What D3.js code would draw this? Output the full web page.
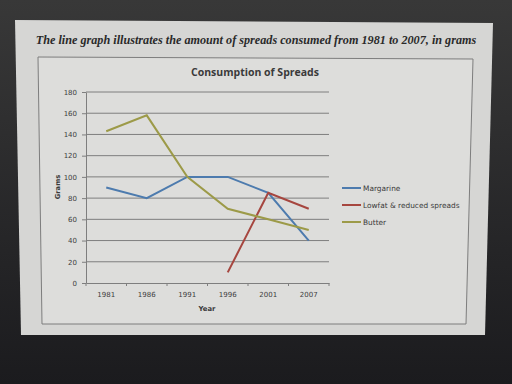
<!DOCTYPE html>
<html>
<head>
<meta charset="utf-8">
<script src="https://cdn.jsdelivr.net/npm/d3@7"></script>
<style>
  html, body { margin: 0; padding: 0; background: #232323; }
  svg { display: block; }
</style>
</head>
<body>
<div id="chart"></div>
<script>
// data
var years = ["1981", "1986", "1991", "1996", "2001", "2007"];
var margarine = [90, 80, 100, 100, 85, 40];
var lowfat = [null, null, null, 10, 85, 70];
var butter = [143, 158, 100, 70, 60, 50];
var seriesNames = ["Margarine", "Lowfat & reduced spreads", "Butter"];
var seriesColors = ["#4d7bae", "#a6463f", "#9c9a48"];
var yTicks = [0, 20, 40, 60, 80, 100, 120, 140, 160, 180];

var W = 512, H = 384;

var svg = d3.select("#chart").append("svg")
  .attr("width", W).attr("height", H);

// dark surround, a bit lighter at the top
var defs = svg.append("defs");
var bg = defs.append("linearGradient").attr("id", "bg")
  .attr("x1", 0).attr("y1", 0).attr("x2", 0).attr("y2", 1);
bg.append("stop").attr("offset", "0%").attr("stop-color", "#383838");
bg.append("stop").attr("offset", "100%").attr("stop-color", "#1b1b1e");
svg.append("rect").attr("width", W).attr("height", H).attr("fill", "url(#bg)");

// the screen, slightly skewed in the photo
svg.append("path")
  .attr("d", "M15,20 L493,23 L485,335 L21,335 Z")
  .attr("fill", "#d6d6d4");

// chart frame
svg.append("path")
  .attr("d", "M38,57 L473,59 L466,324 L42,324 Z")
  .attr("fill", "#dddddb")
  .attr("stroke", "#7d7d7d")
  .attr("stroke-width", 1);

svg.append("text")
  .attr("x", 256).attr("y", 44)
  .attr("text-anchor", "middle")
  .attr("font-family", "Liberation Serif, serif")
  .attr("font-style", "italic").attr("font-weight", "bold")
  .attr("font-size", 12.2)
  .attr("fill", "#2a2a2a")
  .text("The line graph illustrates the amount of spreads consumed from 1981 to 2007, in grams");

svg.append("text")
  .attr("x", 255).attr("y", 76)
  .attr("text-anchor", "middle")
  .attr("font-family", "Open Sans, sans-serif")
  .attr("font-weight", "bold")
  .attr("font-size", 10.5)
  .attr("fill", "#3a3a3a")
  .text("Consumption of Spreads");

// scales
var plot = {left: 86, right: 329, top: 92, bottom: 283};

var x = d3.scaleBand()
  .domain(years)
  .range([plot.left, plot.right]);

var y = d3.scaleLinear()
  .domain([0, 180])
  .range([plot.bottom, plot.top]);

// gridlines
svg.append("g")
  .selectAll("line")
  .data(yTicks.slice(1))
  .enter().append("line")
    .attr("x1", plot.left).attr("x2", plot.right)
    .attr("y1", function(d) { return y(d); })
    .attr("y2", function(d) { return y(d); })
    .attr("stroke", "#7e7e7e")
    .attr("stroke-width", 1);

// y axis
var yAxis = svg.append("g")
  .attr("transform", "translate(" + plot.left + ",0)")
  .call(d3.axisLeft(y).tickValues(yTicks).tickSize(4).tickPadding(5).tickSizeOuter(0));

// x axis
var xAxis = svg.append("g")
  .attr("transform", "translate(0," + plot.bottom + ")")
  .call(d3.axisBottom(x).tickSize(0).tickPadding(9));

// tick marks at the band edges, like Excel
var edges = years.map(function(d) { return x(d); }).concat([plot.right]);
xAxis.selectAll(".edge")
  .data(edges)
  .enter().append("line")
    .attr("class", "edge")
    .attr("x1", function(d) { return d; }).attr("x2", function(d) { return d; })
    .attr("y1", 0).attr("y2", 3)
    .attr("stroke", "#7e7e7e");

[yAxis, xAxis].forEach(function(a) {
  a.select(".domain").attr("stroke", "#7e7e7e");
  a.selectAll(".tick line").attr("stroke", "#7e7e7e");
  a.selectAll("text")
    .attr("font-family", "DejaVu Sans, sans-serif")
    .attr("font-size", 7)
    .attr("fill", "#404040");
});

svg.append("text")
  .attr("transform", "translate(60,187) rotate(-90)")
  .attr("text-anchor", "middle")
  .attr("font-family", "DejaVu Sans, sans-serif")
  .attr("font-weight", "bold")
  .attr("font-size", 6.8)
  .attr("fill", "#3a3a3a")
  .text("Grams");

svg.append("text")
  .attr("x", 207).attr("y", 311)
  .attr("text-anchor", "middle")
  .attr("font-family", "DejaVu Sans, sans-serif")
  .attr("font-weight", "bold")
  .attr("font-size", 6.8)
  .attr("fill", "#3a3a3a")
  .text("Year");

// lines
var allSeries = [margarine, lowfat, butter];
var line = d3.line()
  .defined(function(d) { return d != null; })
  .x(function(d, i) { return x(years[i]) + x.bandwidth() / 2; })
  .y(function(d) { return y(d); });

svg.append("g")
  .selectAll("path")
  .data(allSeries)
  .enter().append("path")
    .attr("d", line)
    .attr("fill", "none")
    .attr("stroke", function(d, i) { return seriesColors[i]; })
    .attr("stroke-width", 2);

// legend
var legend = svg.append("g")
  .selectAll("g")
  .data(seriesNames)
  .enter().append("g")
    .attr("transform", function(d, i) { return "translate(342," + (188 + i * 17) + ")"; });

legend.append("line")
  .attr("x1", 0).attr("x2", 19)
  .attr("stroke", function(d, i) { return seriesColors[i]; })
  .attr("stroke-width", 2);

legend.append("text")
  .attr("x", 21).attr("y", 2.5)
  .attr("font-family", "DejaVu Sans, sans-serif")
  .attr("font-size", 7.4)
  .attr("fill", "#3a3a3a")
  .text(function(d) { return d; });
</script>
</body>
</html>
